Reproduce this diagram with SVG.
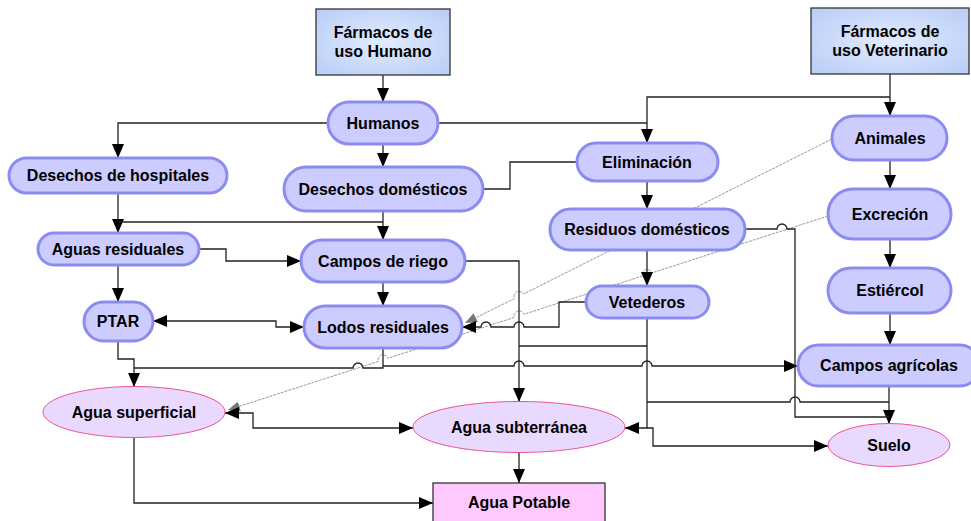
<svg xmlns="http://www.w3.org/2000/svg" width="971" height="521" viewBox="0 0 971 521">
<style>
text{font-family:"Liberation Sans",Arial,sans-serif;font-weight:bold;font-size:16px;fill:#000;text-anchor:middle}
.pill{fill:#ccccff;stroke:#8c8cf0;stroke-width:3}
.ell{fill:#e9d9ff;stroke:#e8559a;stroke-width:1}
.src{fill:url(#g);stroke:#333;stroke-width:1.3}
.c{fill:none;stroke:#222;stroke-width:1.3}
.a{marker-end:url(#ar)}
.b{marker-start:url(#ar);marker-end:url(#ar)}
.d{fill:none;stroke:#999;stroke-width:1;stroke-dasharray:3 1}
</style>
<defs>
<radialGradient id="g" cx="50%" cy="50%" r="70%">
<stop offset="0" stop-color="#e2ecff"/>
<stop offset="1" stop-color="#b8ccf6"/>
</radialGradient>
<marker id="ar" viewBox="0 0 14 12" refX="14" refY="6" markerWidth="14" markerHeight="12" markerUnits="userSpaceOnUse" orient="auto-start-reverse">
<path d="M0,0 L14,6 L0,12 z" fill="#000"/>
</marker>
<marker id="ag" viewBox="0 0 12 10" refX="12" refY="5" markerWidth="12" markerHeight="10" markerUnits="userSpaceOnUse" orient="auto">
<path d="M0,0 L12,5 L0,10 z" fill="#777"/>
</marker>
</defs>
<g id="connectors">
<path class="d" marker-end="url(#ag)" d="M832,139 L523.47,294.05 A5,5 0 0 0 514.53,298.55 L465,323"/>
<path class="d" marker-end="url(#ag)" d="M828,216 L651.76,272.96 A5,5 0 0 0 642.24,276.04 L523.76,314.36 A5,5 0 0 0 514.24,317.44 L387.76,358.36 A5,5 0 0 0 378.24,361.44 L228,410"/>
<path class="c a" d="M383,75 V102"/>
<path class="c a" d="M328,123 H118 V158"/>
<path class="c a" d="M383,144 V167"/>
<path class="c" d="M438,123 H647"/>
<path class="c a" d="M890,74 V116"/>
<path class="c a" d="M890,97 H647 V143"/>
<path class="c" d="M577,162 H510 V189 H483"/>
<path class="c a" d="M647,181 V209"/>
<path class="c a" d="M890,160 V189"/>
<path class="c a" d="M890,239 V268"/>
<path class="c a" d="M890,313 V345"/>
<path class="c a" d="M118,193 V233"/>
<path class="c a" d="M383,211 V240"/>
<path class="c" d="M383,222 H118"/>
<path class="c a" d="M199,249 H226 V261 H301"/>
<path class="c a" d="M118,265 V302"/>
<path class="c a" d="M383,282 V306"/>
<path class="c b" d="M153,321 H276 V327 H304"/>
<path class="c a" d="M118,341 V359 H134 V387"/>
<path class="c" d="M383,348 V368 H363 A5,5 0 0 0 353,368 H134"/>
<path class="c a" d="M383,366 H514 A5,5 0 0 1 524,366 H642 A5,5 0 0 1 652,366 H798"/>
<path class="c a" d="M465,261 H519 V402"/>
<path class="c a" d="M586,302 H559 V327 H524 A5,5 0 0 0 514,327 H491 A5,5 0 0 0 481,327 H462"/>
<path class="c a" d="M647,250 V286"/>
<path class="c a" d="M647,318 V428 H625"/>
<path class="c" d="M647,346 H519"/>
<path class="c a" d="M647,428 H653 V446 H828"/>
<path class="c" d="M647,402 H790 A5,5 0 0 1 800,402 H889"/>
<path class="c a" d="M889,386 V424"/>
<path class="c" d="M745,229 H777 A5,5 0 0 1 787,229 H795 V417 H889"/>
<path class="c b" d="M225,413 H253 V428 H413"/>
<path class="c a" d="M134,438 V503 H433"/>
<path class="c a" d="M519,453 V483"/>
</g>
<g id="farmacos-humano"><rect class="src" x="316" y="9" width="134" height="66"/><text x="383" y="38">Fármacos de</text><text x="383" y="57">uso Humano</text></g>
<g id="farmacos-veterinario"><rect class="src" x="811" y="8" width="158" height="66"/><text x="890" y="37">Fármacos de</text><text x="890" y="56">uso Veterinario</text></g>
<g id="humanos"><rect class="pill" x="328" y="102" width="110" height="42" rx="21"/><text x="383" y="129">Humanos</text></g>
<g id="desechos-hospitales"><rect class="pill" x="9" y="158" width="218" height="35" rx="17.5"/><text x="118" y="181">Desechos de hospitales</text></g>
<g id="desechos-domesticos"><rect class="pill" x="284" y="167" width="199" height="44" rx="22"/><text x="383" y="195">Desechos domésticos</text></g>
<g id="eliminacion"><rect class="pill" x="577" y="143" width="141" height="38" rx="19"/><text x="647" y="168">Eliminación</text></g>
<g id="animales"><rect class="pill" x="832" y="116" width="115" height="44" rx="22"/><text x="890" y="144">Animales</text></g>
<g id="excrecion"><rect class="pill" x="828" y="189" width="123" height="50" rx="25"/><text x="890" y="220">Excreción</text></g>
<g id="residuos-domesticos"><rect class="pill" x="550" y="209" width="195" height="41" rx="20.5"/><text x="647" y="235">Residuos domésticos</text></g>
<g id="aguas-residuales"><rect class="pill" x="38" y="233" width="161" height="32" rx="16"/><text x="118" y="255">Aguas residuales</text></g>
<g id="campos-riego"><rect class="pill" x="301" y="240" width="164" height="42" rx="21"/><text x="383" y="267">Campos de riego</text></g>
<g id="ptar"><rect class="pill" x="84" y="302" width="69" height="39" rx="19.5"/><text x="118" y="327">PTAR</text></g>
<g id="lodos-residuales"><rect class="pill" x="304" y="306" width="158" height="42" rx="21"/><text x="383" y="333">Lodos residuales</text></g>
<g id="vetederos"><rect class="pill" x="586" y="286" width="123" height="32" rx="16"/><text x="647" y="308">Vetederos</text></g>
<g id="estiercol"><rect class="pill" x="828" y="268" width="123" height="45" rx="22.5"/><text x="890" y="296">Estiércol</text></g>
<g id="campos-agricolas"><rect class="pill" x="798" y="345" width="182" height="41" rx="20.5"/><text x="889" y="371">Campos agrícolas</text></g>
<g id="agua-superficial"><ellipse class="ell" cx="134" cy="412" rx="91" ry="25.5"/><text x="134" y="418">Agua superficial</text></g>
<g id="agua-subterranea"><ellipse class="ell" cx="519" cy="427" rx="106" ry="25.5"/><text x="519" y="433">Agua subterránea</text></g>
<g id="suelo"><ellipse class="ell" cx="889" cy="445" rx="61" ry="21.5"/><text x="889" y="451">Suelo</text></g>
<g id="agua-potable"><rect x="433" y="483" width="172" height="50" fill="#ffc8ff" stroke="#333" stroke-width="1.3"/><text x="519" y="508">Agua Potable</text></g>
</svg>
